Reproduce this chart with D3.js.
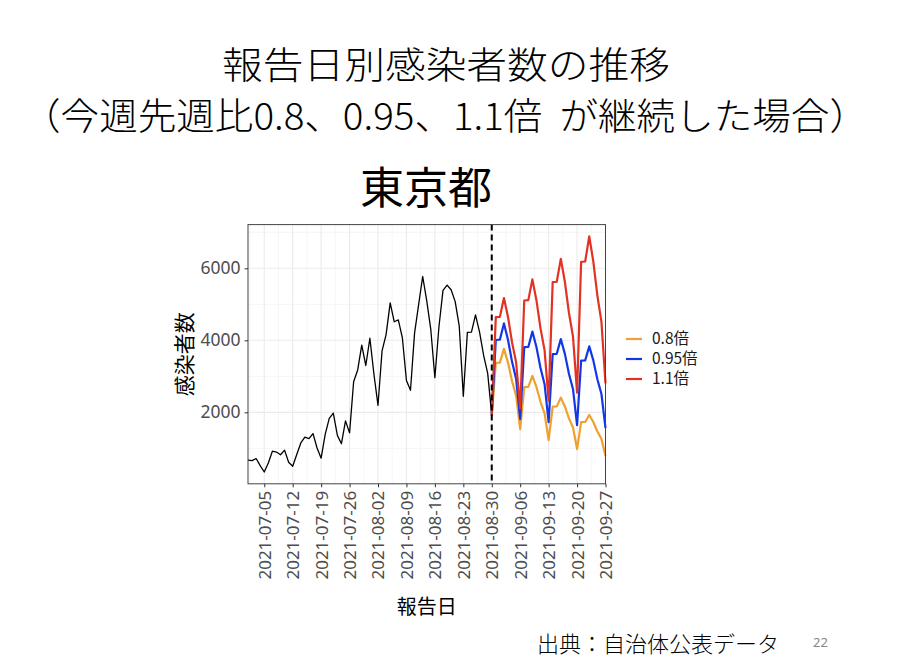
<!DOCTYPE html>
<html>
<head>
<meta charset="utf-8">
<script src="https://cdn.jsdelivr.net/npm/d3@7"></script>
<style>
  body { margin: 0; background: #fff; }
  text { font-family: "Noto Sans CJK JP", "Noto Sans", sans-serif; }
</style>
</head>
<body>
<script>
// reported cases, Tokyo, 2021-07-01 .. 2021-08-30
const actualStart = "2021-07-01"
const actual = [673, 660, 716, 518, 342, 593, 920, 896, 822, 950, 614, 502, 830, 1149, 1308,
  1271, 1410, 1008, 727, 1387, 1832, 1979, 1359, 1128, 1763, 1429, 2848, 3177, 3865, 3300,
  4058, 3058, 2195, 3709, 4166, 5042, 4515, 4566, 4066, 2884, 2612, 4200, 4989, 5773, 5094,
  4295, 2962, 4377, 5386, 5534, 5405, 5074, 4392, 2447, 4220, 4228, 4704, 4227, 3581, 3081, 1915]

// projections, 2021-08-30 .. 2021-09-27
const projStart = "2021-08-30"
const proj080 = [1915, 3376, 3382, 3763, 3382, 2865, 2465, 1532, 2701, 2706, 3011, 2705, 2292, 1972,
  1226, 2161, 2165, 2408, 2164, 1833, 1577, 980, 1729, 1732, 1927, 1731, 1467, 1262, 784]
const proj095 = [1915, 4009, 4017, 4469, 4016, 3402, 2927, 1819, 3809, 3816, 4245, 3815, 3232, 2781,
  1728, 3618, 3625, 4033, 3624, 3070, 2642, 1642, 3437, 3444, 3831, 3443, 2917, 2509, 1560]
const proj110 = [1915, 4642, 4651, 5174, 4650, 3939, 3389, 2107, 5106, 5116, 5692, 5115, 4333, 3728,
  2317, 5617, 5627, 6261, 5626, 4766, 4101, 2549, 6179, 6190, 6887, 6189, 5243, 4511, 2804]

const seriesNames = ["0.8倍", "0.95倍", "1.1倍"]
const seriesColors = ["#f0a030", "#1437e6", "#e03323"]
const yTicks = [2000, 4000, 6000]
const yMinor = [1000, 3000, 5000, 7000]
const xTicks = ["2021-07-05", "2021-07-12", "2021-07-19", "2021-07-26", "2021-08-02", "2021-08-09",
  "2021-08-16", "2021-08-23", "2021-08-30", "2021-09-06", "2021-09-13", "2021-09-20", "2021-09-27"]
const cutDate = "2021-08-30"

const parse = d3.timeParse("%Y-%m-%d")
const fmt = d3.timeFormat("%Y-%m-%d")
const toPoints = (start, vals) => vals.map((v, i) => ({ date: d3.timeDay.offset(parse(start), i), v }))

const actualPts = toPoints(actualStart, actual)
const projSeries = [proj080, proj095, proj110].map((vals) => toPoints(projStart, vals))

const width = 900
const height = 671
const panel = { left: 248, right: 605.5, top: 224.6, bottom: 483.8 }

const svg = d3.select("body")
  .append("svg")
  .attr("width", width)
  .attr("height", height)

svg.append("rect").attr("width", width).attr("height", height).attr("fill", "#fff")

// titles
svg.append("text")
  .attr("x", 222).attr("y", 79)
  .attr("font-size", 37).attr("font-weight", 300)
  .attr("textLength", 448).attr("lengthAdjust", "spacingAndGlyphs")
  .text("報告日別感染者数の推移")
svg.append("text")
  .attr("x", 22).attr("y", 130)
  .attr("font-size", 37).attr("font-weight", 300)
  .attr("textLength", 846).attr("lengthAdjust", "spacingAndGlyphs")
  .style("white-space", "pre")
  .text("（今週先週比0.8、0.95、1.1倍  が継続した場合）")
svg.append("text")
  .attr("x", 360).attr("y", 204)
  .attr("font-size", 44)
  .text("東京都")

// scales
const allVals = actual.concat(proj080, proj095, proj110)
const [lo, hi] = d3.extent(allVals)
const pad = (hi - lo) * 0.05
const x = d3.scaleTime()
  .domain([parse(actualStart), d3.timeDay.offset(parse(projStart), proj080.length - 1)])
  .range([panel.left, panel.right])
const y = d3.scaleLinear()
  .domain([lo - pad, hi + pad])
  .range([panel.bottom, panel.top])

const g = svg.append("g")

// grid
const xMaj = xTicks.map(parse)
const xMin = [new Date(+xMaj[0] - 3.5 * 864e5)]
  .concat(xMaj.slice(1).map((d, i) => new Date((+d + +xMaj[i]) / 2)))
g.selectAll("line.ygmin").data(yMinor).join("line")
  .attr("x1", panel.left).attr("x2", panel.right)
  .attr("y1", (d) => y(d)).attr("y2", (d) => y(d))
  .attr("stroke", "#f2f2f2").attr("stroke-width", 0.7)
g.selectAll("line.xgmin").data(xMin).join("line")
  .attr("x1", (d) => x(d)).attr("x2", (d) => x(d))
  .attr("y1", panel.top).attr("y2", panel.bottom)
  .attr("stroke", "#f2f2f2").attr("stroke-width", 0.7)
g.selectAll("line.ygmaj").data(yTicks).join("line")
  .attr("x1", panel.left).attr("x2", panel.right)
  .attr("y1", (d) => y(d)).attr("y2", (d) => y(d))
  .attr("stroke", "#ebebeb").attr("stroke-width", 1.1)
g.selectAll("line.xgmaj").data(xMaj).join("line")
  .attr("x1", (d) => x(d)).attr("x2", (d) => x(d))
  .attr("y1", panel.top).attr("y2", panel.bottom)
  .attr("stroke", "#ebebeb").attr("stroke-width", 1.1)

// lines
const line = d3.line().x((d) => x(d.date)).y((d) => y(d.v))
g.append("path")
  .attr("d", line(actualPts))
  .attr("fill", "none").attr("stroke", "#000").attr("stroke-width", 1.3)
  .attr("stroke-linejoin", "round")
projSeries.forEach((pts, i) => {
  g.append("path")
    .attr("d", line(pts))
    .attr("fill", "none").attr("stroke", seriesColors[i]).attr("stroke-width", 2.2)
    .attr("stroke-linejoin", "round")
})

// cut line
g.append("line")
  .attr("x1", x(parse(cutDate))).attr("x2", x(parse(cutDate)))
  .attr("y1", panel.top).attr("y2", panel.bottom)
  .attr("stroke", "#000").attr("stroke-width", 2).attr("stroke-dasharray", "6,4")

// border
g.append("rect")
  .attr("x", panel.left).attr("y", panel.top)
  .attr("width", panel.right - panel.left).attr("height", panel.bottom - panel.top)
  .attr("fill", "none").attr("stroke", "#444").attr("stroke-width", 1)

// axes
const yAxis = svg.append("g")
  .attr("transform", `translate(${panel.left},0)`)
  .call(d3.axisLeft(y).tickValues(yTicks).tickSize(3.5).tickPadding(4).tickFormat(d3.format("d")))
yAxis.select(".domain").remove()
yAxis.selectAll("line").attr("stroke", "#333")
yAxis.selectAll("text").attr("font-size", 17.5).attr("fill", "#4d4d4d")
  .style("font-family", "'Noto Sans', sans-serif")

const xAxis = svg.append("g")
  .attr("transform", `translate(0,${panel.bottom})`)
  .call(d3.axisBottom(x).tickValues(xMaj).tickSize(3.5).tickFormat(fmt))
xAxis.select(".domain").remove()
xAxis.selectAll("line").attr("stroke", "#333")
xAxis.selectAll("text")
  .attr("font-size", 17).attr("fill", "#4d4d4d")
  .style("font-family", "'Noto Sans', sans-serif")
  .attr("transform", "rotate(-90)")
  .attr("text-anchor", "end")
  .attr("x", -7).attr("y", 0).attr("dy", "0.35em")

// axis titles
svg.append("text")
  .attr("transform", `translate(${192},${(panel.top + panel.bottom) / 2}) rotate(-90)`)
  .attr("text-anchor", "middle")
  .attr("font-size", 21)
  .text("感染者数")
svg.append("text")
  .attr("x", (panel.left + panel.right) / 2).attr("y", 614)
  .attr("text-anchor", "middle")
  .attr("font-size", 20)
  .text("報告日")

// legend
const leg = svg.append("g").attr("transform", "translate(626,339)")
seriesNames.forEach((name, i) => {
  leg.append("line")
    .attr("x1", 0).attr("x2", 16).attr("y1", i * 20).attr("y2", i * 20)
    .attr("stroke", seriesColors[i]).attr("stroke-width", 2.2)
  leg.append("text")
    .attr("x", 26).attr("y", i * 20).attr("dy", "0.35em")
    .attr("font-size", 15.5).attr("fill", "#1a1a1a")
    .text(name)
})

// footer
svg.append("text")
  .attr("x", 537).attr("y", 652)
  .attr("font-size", 22).attr("font-weight", 300)
  .text("出典：自治体公表データ")
svg.append("text")
  .attr("x", 813).attr("y", 647)
  .attr("font-size", 13).attr("fill", "#888")
  .style("font-family", "'Noto Sans', sans-serif")
  .text("22")
</script>
</body>
</html>
